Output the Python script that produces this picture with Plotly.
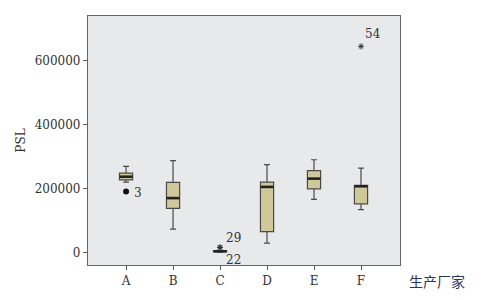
import plotly.graph_objects as go

categories = ["A", "B", "C", "D", "E", "F"]
lower = [220000, 73000, 1000, 29000, 166000, 134000]
q1 = [227000, 138000, 2500, 65000, 199000, 152000]
median = [237000, 170000, 3500, 205000, 231000, 207000]
q3 = [248000, 219000, 4500, 220000, 256000, 210000]
upper = [269000, 287000, 6000, 275000, 290000, 264000]

outlier_cat = ["A", "C", "C", "F"]
outlier_val = [191000, 16000, 15000, 645000]
outlier_id = ["3", "29", "22", "54"]
outlier_kind = ["circle", "star", "star", "star"]

y_ticks = [0, 200000, 400000, 600000]

SERIF = "DejaVu Serif"
box_w = 0.28
fill = "#cfc89b"
edge = "#4a4a4a"

fig = go.Figure()
xs = list(range(len(categories)))
fig.add_trace(go.Box(
    x=xs, q1=q1, median=median, q3=q3, lowerfence=lower, upperfence=upper,
    width=box_w, whiskerwidth=0.45, fillcolor=fill,
    line=dict(color=edge, width=1.2), boxpoints=False, showlegend=False,
))
for i, m in enumerate(median):
    fig.add_trace(go.Scatter(
        x=[i - box_w / 2, i + box_w / 2], y=[m, m], mode="lines",
        line=dict(color="#222222", width=2.6), showlegend=False, hoverinfo="skip",
    ))

ox = [categories.index(c) for c in outlier_cat]
for k in range(len(ox)):
    if outlier_kind[k] == "circle":
        marker = dict(symbol="circle", size=6, color="#111111")
    else:
        marker = dict(symbol="asterisk-open", size=5, color="#333333",
                      line=dict(color="#333333", width=1))
    fig.add_trace(go.Scatter(x=[ox[k]], y=[outlier_val[k]], mode="markers",
                             marker=marker, showlegend=False))

label_pos = {"3": (12, 2), "29": (13, -9), "22": (13, 12), "54": (12, -12)}
for k in range(len(ox)):
    dx, dy = label_pos[outlier_id[k]]
    fig.add_annotation(x=ox[k], y=outlier_val[k], text=outlier_id[k], showarrow=False,
                       xshift=dx, yshift=-dy,
                       font=dict(family=SERIF, size=12, color="#333333"))

fig.add_annotation(xref="paper", yref="paper", x=1.022, y=-0.064, xanchor="left", yanchor="middle",
                   text="生产厂家", showarrow=False,
                   font=dict(family="Noto Sans CJK SC", size=14, color="#2a3560"))

fig.update_layout(
    width=490, height=300,
    margin=dict(l=88, r=90, t=16, b=33),
    paper_bgcolor="white", plot_bgcolor="#e8e9ea",
    font=dict(family=SERIF, size=12, color="#333333"),
)
fig.update_xaxes(
    range=[-0.81, 5.83], tickvals=xs, ticktext=categories,
    showgrid=False, zeroline=False, showline=True, linecolor="#666666", linewidth=1.2,
    mirror=True, ticks="outside", ticklen=4, tickcolor="#555555",
    tickfont=dict(family=SERIF, size=12),
)
fig.update_yaxes(
    range=[-39400, 740000], tickvals=y_ticks, ticktext=[str(v) for v in y_ticks],
    showgrid=False, zeroline=False, showline=True, linecolor="#666666", linewidth=1.2,
    mirror=True, ticks="outside", ticklen=4, tickcolor="#555555",
    tickfont=dict(family=SERIF, size=12),
    title=dict(text="PSL", standoff=6, font=dict(family=SERIF, size=12)),
)

fig.write_html("out.html")
